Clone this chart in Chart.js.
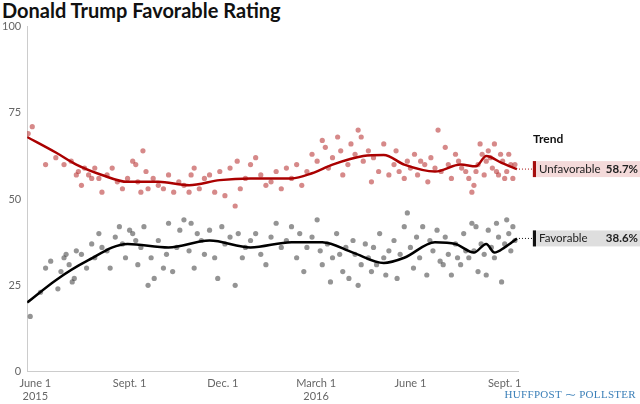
<!doctype html>
<html><head><meta charset="utf-8">
<title>Donald Trump Favorable Rating</title>
<script src="https://cdn.jsdelivr.net/npm/chart.js"></script>
<style>
body{margin:0;background:#fff;font-family:Lato,sans-serif}
h1{position:absolute;left:2px;top:-2px;margin:0;font:bold 20px Lato,sans-serif;color:#111}
#wrap{position:absolute;left:0;top:18px;width:640px;height:386px}
#brand{position:absolute;right:4px;top:386px;font:11px "Liberation Serif",serif;color:#3a7fb8;letter-spacing:0.3px}
</style></head><body>
<h1>Donald Trump Favorable Rating</h1>
<div id="wrap"><canvas id="c"></canvas></div>
<div id="brand">HUFFPOST ⁓ POLLSTER</div>
<script>
// x = days since June 1 2015
let unfav = [[-7,69],[-3,71],[10,60],[20,62],[28,60],[35,61],[40,57],[42,58],[45,54],[48,59],[52,57],[55,56],[58,59],[62,56],[65,52],[70,57],[75,59],[80,55],[85,53],[90,56],[95,61],[98,60],[100,55],[103,52],[105,64],[108,58],[110,53],[115,56],[120,54],[125,53],[130,57],[135,52],[140,55],[145,54],[150,52],[152,57],[155,59],[160,53],[165,56],[170,57],[175,52],[180,58],[185,51],[190,59],[195,48],[197,61],[200,53],[205,56],[210,60],[215,62],[220,57],[225,54],[230,55],[235,58],[240,53],[245,59],[250,56],[255,60],[260,54],[265,58],[270,63],[275,61],[280,67],[283,65],[286,59],[290,62],[295,68],[298,64],[300,57],[305,60],[308,66],[312,63],[315,70],[318,68],[320,61],[325,64],[328,55],[330,62],[335,58],[340,66],[345,57],[350,60],[352,64],[355,58],[360,56],[363,61],[366,59],[370,63],[373,57],[376,61],[380,60],[383,55],[386,62],[390,59],[393,70],[396,58],[400,65],[403,60],[406,56],[410,63],[413,61],[416,59],[420,58],[423,56],[426,52],[428,54],[430,58],[432,60],[434,66],[436,63],[438,57],[440,61],[442,64],[444,62],[446,59],[448,66],[450,58],[452,57],[454,63],[456,61],[458,56],[460,58],[462,63],[464,60],[466,56],[468,60]]
let fav = [[-5,16],[5,23],[10,30],[15,32],[22,24],[25,29],[28,33],[30,34],[33,31],[36,26],[38,27],[40,35],[45,34],[50,30],[55,37],[58,33],[62,40],[65,36],[70,35],[73,30],[78,39],[82,42],[85,37],[88,33],[92,41],[95,40],[98,38],[100,31],[103,36],[106,42],[110,25],[113,33],[116,27],[120,38],[125,30],[128,34],[130,43],[134,29],[138,36],[141,41],[145,44],[150,35],[152,43],[155,30],[158,40],[162,38],[165,34],[170,41],[175,33],[178,27],[182,42],[185,37],[190,39],[195,25],[198,40],[202,33],[205,36],[210,38],[215,40],[220,34],[225,31],[230,39],[235,43],[240,36],[245,38],[250,42],[255,33],[258,40],[262,29],[265,36],[270,39],[275,44],[278,35],[280,31],[285,37],[288,26],[290,33],[294,40],[297,34],[300,29],[303,36],[306,27],[310,38],[312,34],[315,25],[318,31],[322,37],[325,33],[328,29],[330,36],[333,31],[336,40],[340,33],[342,28],[345,35],[350,38],[353,27],[356,34],[360,42],[363,46],[366,36],[369,30],[372,39],[375,33],[378,42],[382,28],[385,38],[388,35],[392,41],[395,32],[398,31],[400,39],[403,34],[406,28],[410,37],[412,33],[415,31],[418,40],[420,35],[423,33],[426,43],[428,35],[430,42],[432,29],[435,37],[438,34],[440,28],[442,41],[445,36],[448,33],[450,43],[452,39],[455,26],[458,37],[460,44],[462,40],[464,35],[466,42],[468,38]]
let unfavTrend = [[-8,68],[20,63.5],[40,60],[65,57],[90,55],[120,55],[150,54],[180,55.5],[210,56],[250,56],[270,57.5],[290,60],[320,62.5],[340,62.8],[360,60],[390,58],[415,60],[430,59.5],[440,62.5],[455,60.5],[470,58.7]]
let favTrend = [[-8,20],[20,26.5],[50,32],[90,37],[130,36],[170,38],[210,36],[250,37.5],[280,37.5],[310,34.5],[340,31.5],[360,33],[390,37.5],[410,37],[428,34.5],[440,37],[448,34.5],[458,36],[470,38.6]]

let xy = arr => arr.map(([x, y]) => ({x, y}))
let ticks = {0: ['June 1', '2015'], 92: 'Sept. 1', 183: 'Dec. 1', 274: ['March 1', '2016'], 366: 'June 1', 458: 'Sept. 1'}

let labels = {
    id: 'labels',
    afterDraw(chart) {
        let {ctx, scales: {x, y}} = chart
        let x0 = x.getPixelForValue(470)
        ctx.save()
        ctx.font = 'bold 12px Lato'
        ctx.fillStyle = '#111'
        ctx.textBaseline = 'middle'
        ctx.fillText('Trend', 533, y.getPixelForValue(67.5))
        let items = [['Unfavorable', '58.7%', 58.7, '#a50e0e', '#f4dada'], ['Favorable', '38.6%', 38.6, '#111', '#dedede']]
        for (let [name, val, v, col, bg] of items) {
            let py = y.getPixelForValue(v)
            ctx.strokeStyle = col
            ctx.setLineDash([1, 2])
            ctx.lineWidth = 1
            ctx.beginPath(); ctx.moveTo(x0 + 2, py); ctx.lineTo(532, py); ctx.stroke()
            ctx.setLineDash([])
            ctx.fillStyle = bg
            ctx.fillRect(532, py - 8, 108, 16)
            ctx.fillStyle = col
            ctx.fillRect(533, py - 8, 3, 16)
            ctx.fillStyle = '#222'
            ctx.font = '11.5px Lato'
            ctx.textAlign = 'left'
            ctx.fillText(name, 539, py)
            ctx.textAlign = 'right'
            ctx.font = 'bold 11.5px Lato'
            ctx.fillText(val, 638, py)
        }
        ctx.restore()
    }
}

new Chart(document.getElementById('c'), {
    type: 'scatter',
    data: {datasets: [
        {data: xy(unfavTrend), type: 'line', borderColor: '#a00', borderWidth: 2.5, pointRadius: 0, cubicInterpolationMode: 'monotone'},
        {data: xy(favTrend), type: 'line', borderColor: '#000', borderWidth: 2.5, pointRadius: 0, cubicInterpolationMode: 'monotone'},
        {data: xy(unfav), backgroundColor: 'rgba(180,40,40,0.55)', borderWidth: 0, pointRadius: 2.6},
        {data: xy(fav), backgroundColor: 'rgba(60,60,60,0.55)', borderWidth: 0, pointRadius: 2.6}
    ]},
    options: {
        animation: false,
        responsive: true,
        maintainAspectRatio: false,
        layout: {padding: {right: 122, top: 3, bottom: 0}},
        scales: {
            x: {type: 'linear', min: -8, max: 471, afterBuildTicks: a => { a.ticks = Object.keys(ticks).map(v => ({value: +v})) },
                grid: {display: false, drawTicks: true, tickLength: 4, tickColor: '#ccc'}, border: {color: '#ccc'},
                ticks: {callback: v => ticks[v], color: '#666', font: {family: 'Lato', size: 11}, maxRotation: 0, autoSkip: false, padding: 1}},
            y: {min: 0, max: 100, afterBuildTicks: a => { a.ticks = [0, 25, 50, 75, 100].map(value => ({value})) },
                grid: {display: false, drawTicks: true, tickLength: 4, tickColor: '#ccc'}, border: {color: '#ccc'},
                ticks: {color: '#666', font: {family: 'Lato', size: 11}, padding: 2}}
        },
        plugins: {legend: {display: false}, tooltip: {enabled: false}}
    },
    plugins: [labels]
})
</script>
</body></html>
